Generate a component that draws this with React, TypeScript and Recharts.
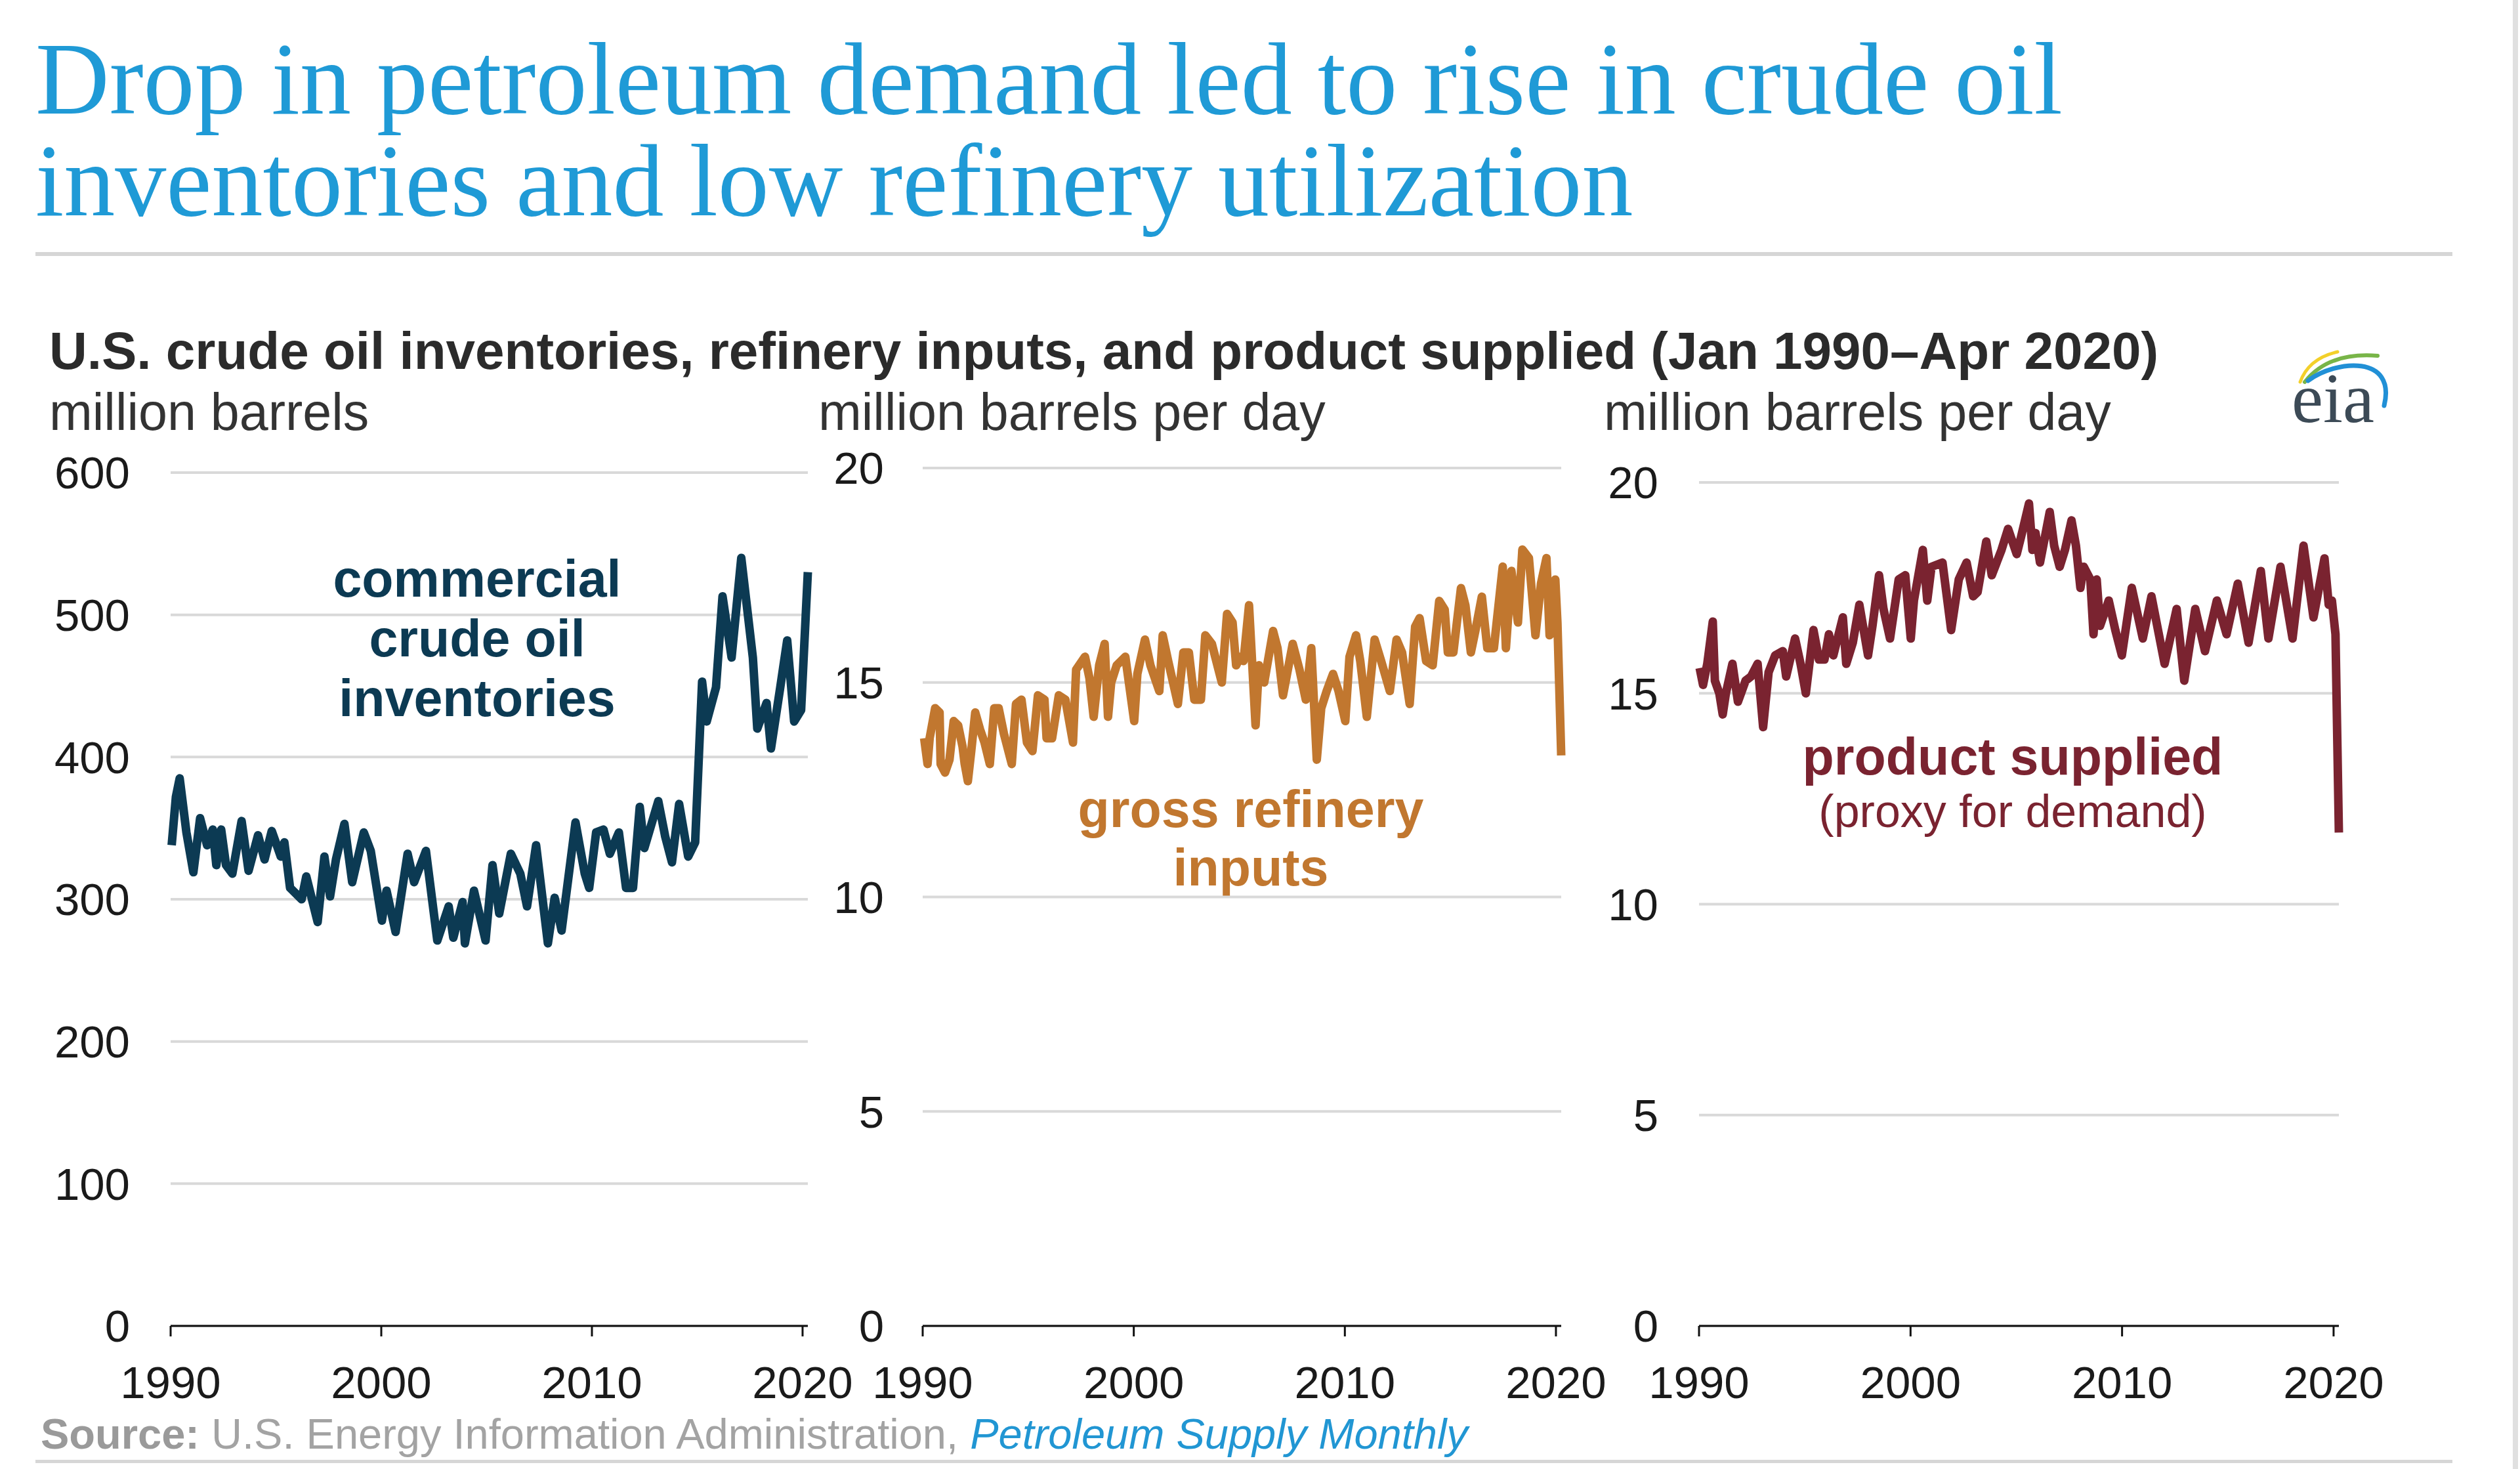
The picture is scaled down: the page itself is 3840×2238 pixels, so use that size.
import { LineChart, Line, XAxis, YAxis, CartesianGrid } from 'recharts'

const SANS = "'Liberation Sans', Arial, Helvetica, sans-serif"
const SERIF = "'Liberation Serif', 'Times New Roman', serif"

const yearTicks = [1990, 2000, 2010, 2020]
const inventoryTicks = [0, 100, 200, 300, 400, 500, 600]
const rateTicks = [0, 5, 10, 15, 20]

// commercial crude oil inventories, million barrels (read at the turning points of the line)
const inventoryDates = [
  1990.05, 1990.25, 1990.43, 1990.75, 1991.08, 1991.4, 1991.73, 1992.0, 1992.17, 1992.4, 1992.63, 1992.93,
  1993.37, 1993.7, 1994.15, 1994.46, 1994.8, 1995.23, 1995.4, 1995.67, 1996.22, 1996.44, 1996.98, 1997.3, 1997.57, 1997.85,
  1998.25, 1998.62, 1999.17, 1999.5, 2000.03, 2000.25, 2000.68, 2001.25, 2001.56, 2002.12, 2002.66, 2003.2, 2003.42, 2003.86, 2003.97,
  2004.4, 2004.95, 2005.28, 2005.6, 2006.15, 2006.6, 2006.92, 2007.35, 2007.91, 2008.23, 2008.56, 2009.22, 2009.66, 2009.87,
  2010.2, 2010.55, 2010.85, 2011.28, 2011.62, 2011.95, 2012.27, 2012.49, 2013.15, 2013.48, 2013.8, 2014.14, 2014.57, 2014.9,
  2015.23, 2015.45, 2015.89, 2016.2, 2016.63, 2017.09, 2017.64, 2017.85, 2018.29, 2018.5, 2018.94, 2019.27, 2019.6, 2019.93, 2020.25,
]
const inventoryValues = [
  338, 372, 385, 347, 319, 357, 338, 349, 324, 349, 324, 318,
  355, 320, 345, 328, 348, 330, 340, 308, 300, 316, 284, 330, 302, 328,
  353, 312, 347, 334, 285, 306, 277, 332, 312, 334, 271, 295, 273, 298, 269,
  306, 271, 324, 290, 332, 318, 295, 338, 269, 301, 278, 354, 318, 308,
  347, 349, 332, 347, 308, 308, 365, 336, 369, 344, 326, 367, 330, 340,
  453, 425, 449, 513, 470, 540, 470, 420, 438, 406, 449, 482, 425, 433, 530,
]

// gross refinery inputs, million barrels per day
const refineryDates = [
  1990.07, 1990.23, 1990.33, 1990.59, 1990.8, 1990.85, 1991.06, 1991.27, 1991.47, 1991.68, 1991.89, 1991.99, 1992.14, 1992.3, 1992.49, 1992.72, 1992.93,
  1993.18, 1993.39, 1993.6, 1993.85, 1994.22, 1994.42, 1994.68, 1994.94, 1995.2, 1995.46, 1995.77, 1995.87, 1996.13, 1996.45, 1996.76,
  1997.12, 1997.27, 1997.69, 1997.9, 1998.1, 1998.36, 1998.62, 1998.78, 1998.93, 1999.19, 1999.6,
  2000.02, 2000.17, 2000.53, 2000.79, 2001.21, 2001.37, 2001.63, 2002.09, 2002.35, 2002.61, 2002.87, 2003.18, 2003.39, 2003.7,
  2004.17, 2004.42, 2004.68, 2004.85, 2005.05, 2005.2, 2005.46, 2005.77, 2005.93, 2006.18, 2006.6, 2006.81, 2007.07, 2007.53, 2007.85,
  2008.15, 2008.41, 2008.67, 2008.88, 2009.14, 2009.44, 2009.7, 2010.02, 2010.22, 2010.53, 2010.73, 2011.04, 2011.41, 2011.72,
  2012.13, 2012.45, 2012.71, 2013.07, 2013.33, 2013.54, 2013.85, 2014.16, 2014.47, 2014.73, 2014.88, 2015.14, 2015.5, 2015.71, 2015.97,
  2016.18, 2016.49, 2016.75, 2017.06, 2017.48, 2017.63, 2017.89, 2018.2, 2018.41, 2018.72, 2019.03, 2019.29, 2019.55, 2019.7, 2019.97, 2020.07, 2020.25,
]
const refineryValues = [
  13.7, 13.1, 13.7, 14.4, 14.3, 13.1, 12.9, 13.2, 14.1, 14.0, 13.5, 13.1, 12.7, 13.4, 14.3, 13.9, 13.6,
  13.1, 14.4, 14.4, 13.8, 13.1, 14.5, 14.6, 13.6, 13.4, 14.7, 14.6, 13.7, 13.7, 14.7, 14.6,
  13.6, 15.3, 15.6, 15.1, 14.2, 15.4, 15.9, 14.2, 15.0, 15.4, 15.6,
  14.1, 15.2, 16.0, 15.4, 14.8, 16.1, 15.5, 14.5, 15.7, 15.7, 14.6, 14.6, 16.1, 15.9,
  15.0, 16.6, 16.4, 15.4, 15.6, 15.5, 16.8, 14.0, 15.4, 15.0, 16.2, 15.8, 14.7, 15.9, 15.3,
  14.6, 15.8, 13.2, 14.4, 14.8, 15.2, 14.8, 14.1, 15.6, 16.1, 15.5, 14.2, 16.0, 15.5,
  14.8, 16.0, 15.7, 14.5, 16.3, 16.5, 15.5, 15.4, 16.9, 16.7, 15.7, 15.7, 17.2, 16.8, 15.7,
  16.2, 17.0, 15.8, 15.8, 17.7, 15.8, 17.6, 16.4, 18.1, 17.9, 16.1, 17.3, 17.9, 16.1, 17.4, 16.4, 13.3,
]

// product supplied, million barrels per day
const suppliedDates = [
  1990.03, 1990.19, 1990.39, 1990.65, 1990.75, 1990.96, 1991.12, 1991.27, 1991.58, 1991.84, 1992.2, 1992.46, 1992.77,
  1993.03, 1993.29, 1993.6, 1993.96, 1994.12, 1994.54, 1994.8, 1995.05, 1995.41, 1995.67, 1995.93, 1996.14, 1996.35, 1996.8, 1996.96,
  1997.27, 1997.58, 1997.99, 1998.2, 1998.51, 1998.72, 1999.03, 1999.44, 1999.75,
  2000.01, 2000.16, 2000.58, 2000.79, 2000.99, 2001.51, 2001.92, 2002.28, 2002.65, 2002.96, 2003.17, 2003.58, 2003.84,
  2004.3, 2004.61, 2005.02, 2005.22, 2005.6, 2005.76, 2005.91, 2006.12, 2006.58, 2006.79, 2007.05, 2007.3, 2007.61, 2007.82,
  2008.03, 2008.19, 2008.5, 2008.65, 2008.8, 2008.96, 2009.37, 2009.68, 2009.99, 2010.46, 2010.98, 2011.39,
  2012.01, 2012.58, 2012.94, 2013.46, 2013.92, 2014.48, 2014.94, 2015.47, 2015.98, 2016.56, 2016.92,
  2017.49, 2018.06, 2018.58, 2019.05, 2019.57, 2019.77, 2019.92, 2020.09, 2020.25,
]
const suppliedValues = [
  15.6, 15.2, 15.7, 16.7, 15.3, 15.0, 14.5, 15.0, 15.7, 14.8, 15.3, 15.4, 15.7,
  14.2, 15.5, 15.9, 16.0, 15.4, 16.3, 15.7, 15.0, 16.5, 15.8, 15.8, 16.4, 15.9, 16.8, 15.7,
  16.2, 17.1, 15.9, 16.6, 17.8, 17.0, 16.3, 17.7, 17.8,
  16.3, 17.2, 18.4, 17.2, 18.0, 18.1, 16.5, 17.7, 18.1, 17.3, 17.4, 18.6, 17.8,
  18.4, 18.9, 18.3, 18.7, 19.5, 18.4, 18.8, 18.1, 19.3, 18.5, 18.0, 18.4, 19.1, 18.5,
  17.5, 18.0, 17.7, 16.4, 17.7, 16.6, 17.2, 16.5, 15.9, 17.5, 16.3, 17.3,
  15.7, 17.0, 15.3, 17.0, 16.0, 17.2, 16.4, 17.6, 16.2, 17.9, 16.3,
  18.0, 16.3, 18.5, 16.8, 18.2, 17.1, 17.2, 16.4, 11.7,
]

const CHART_TOP = 600
const CHART_H = 1570
const tickStyle = { fontSize: 69, fill: '#1a1a1a', fontFamily: SANS }

type PanelProps = {
  left: number
  width: number
  plotTop: number
  axisWidth: number
  labelGap: number
  dates: number[]
  values: number[]
  yMax: number
  yTicks: number[]
  color: string
}

function Panel(p: PanelProps) {
  const rows = p.dates.map((t, i) => ({ t, v: p.values[i] }))
  return (
    <div style={{ position: 'absolute', left: p.left, top: CHART_TOP }}>
      <LineChart
        width={p.width}
        height={CHART_H}
        data={rows}
        margin={{ top: p.plotTop, right: 120, bottom: 0, left: 0 }}
      >
        <CartesianGrid vertical={false} stroke="#d9d9d9" strokeWidth={4} />
        <XAxis
          type="number"
          dataKey="t"
          domain={[1990, 2020.25]}
          ticks={yearTicks}
          interval={0}
          height={150}
          axisLine={{ stroke: '#111', strokeWidth: 3 }}
          tickLine={{ stroke: '#111', strokeWidth: 3 }}
          tickSize={16}
          tickMargin={45}
          tick={tickStyle}
        />
        <YAxis
          type="number"
          domain={[0, p.yMax]}
          ticks={p.yTicks}
          interval={0}
          width={p.axisWidth}
          axisLine={false}
          tickLine={false}
          tickSize={0}
          tickMargin={p.labelGap}
          tick={tickStyle}
        />
        <Line
          type="linear"
          dataKey="v"
          stroke={p.color}
          strokeWidth={13}
          strokeLinejoin="round"
          dot={false}
          isAnimationActive={false}
        />
      </LineChart>
    </div>
  )
}

function Backdrop() {
  return (
    <svg width={3840} height={2238} style={{ position: 'absolute', left: 0, top: 0 }}>
      <rect width={3840} height={2238} fill="#fff" />
      <text fontFamily={SERIF} fontSize={156} fill="#1f9ad6">
        <tspan x={54} y={173}>Drop in petroleum demand led to rise in crude oil</tspan>
        <tspan x={54} y={328}>inventories and low refinery utilization</tspan>
      </text>
      <rect x={54} y={384} width={3683} height={6} fill="#d6d6d6" />

      <text x={75} y={562} fontFamily={SANS} fontSize={80} fontWeight="bold" fill="#2b2b2b">
        U.S. crude oil inventories, refinery inputs, and product supplied (Jan 1990–Apr 2020)
      </text>
      <g fontFamily={SANS} fontSize={79} fill="#333">
        <text x={75} y={655}>million barrels</text>
        <text x={1247} y={655}>million barrels per day</text>
        <text x={2444} y={655}>million barrels per day</text>
      </g>

      <g fontFamily={SANS} fontSize={79} fontWeight="bold" fill="#0c3a53" textAnchor="middle">
        <text x={727} y={909}>commercial</text>
        <text x={727} y={1000}>crude oil</text>
        <text x={727} y={1091}>inventories</text>
      </g>
      <g fontFamily={SANS} fontSize={79} fontWeight="bold" fill="#c1772f" textAnchor="middle">
        <text x={1906} y={1260}>gross refinery</text>
        <text x={1906} y={1349}>inputs</text>
      </g>
      <g fontFamily={SANS} fill="#7a2330" textAnchor="middle">
        <text x={3067} y={1180} fontSize={79} fontWeight="bold">product supplied</text>
        <text x={3067} y={1260} fontSize={70}>(proxy for demand)</text>
      </g>

      {/* eia logo */}
      <path d="M3505 582 Q3518 546 3562 536" stroke="#f3d02a" strokeWidth={5} fill="none" strokeLinecap="round" />
      <path d="M3512 582 Q3548 536 3623 542" stroke="#78b548" strokeWidth={6} fill="none" strokeLinecap="round" />
      <path d="M3517 580 C3560 548 3652 540 3633 618" stroke="#2190d6" strokeWidth={7} fill="none" strokeLinecap="round" />
      <text x={3492} y={643} fontFamily={SERIF} fontSize={108} fill="#3c4a56">eia</text>

      <text x={62} y={2207} fontFamily={SANS} fontSize={65} fill="#a3a3a3">
        <tspan fontWeight="bold" fill="#9a9a9a">Source:</tspan>
        <tspan> U.S. Energy Information Administration, </tspan>
        <tspan fontStyle="italic" fill="#2196d3">Petroleum Supply Monthly</tspan>
      </text>
      <rect x={54} y={2224} width={3683} height={5} fill="#d6d6d6" />
      <rect x={3829} y={0} width={8} height={2238} fill="#e0e0e0" />
    </svg>
  )
}

export default function App() {
  return (
    <div style={{ position: 'absolute', left: 0, top: 0, width: 3840, height: 2238, background: '#fff' }}>
      <Backdrop />
      <Panel
        left={0}
        width={1351}
        plotTop={120}
        axisWidth={260}
        labelGap={62}
        dates={inventoryDates}
        values={inventoryValues}
        yMax={600}
        yTicks={inventoryTicks}
        color="#0c3a53"
      />
      <Panel
        left={1200}
        width={1299}
        plotTop={113}
        axisWidth={206}
        labelGap={59}
        dates={refineryDates}
        values={refineryValues}
        yMax={20}
        yTicks={rateTicks}
        color="#c1772f"
      />
      <Panel
        left={2380}
        width={1304}
        plotTop={135}
        axisWidth={209}
        labelGap={62}
        dates={suppliedDates}
        values={suppliedValues}
        yMax={20}
        yTicks={rateTicks}
        color="#7a2330"
      />
    </div>
  )
}
